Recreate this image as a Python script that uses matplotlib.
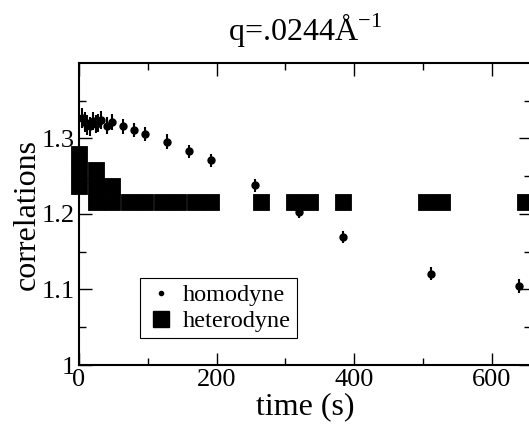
import matplotlib
matplotlib.use('Agg')
import matplotlib.pyplot as plt
from matplotlib.lines import Line2D

plt.rcParams['font.family'] = ['Liberation Serif', 'DejaVu Serif']
plt.rcParams['mathtext.fontset'] = 'custom'
plt.rcParams['mathtext.rm'] = 'Liberation Serif'

# homodyne correlation (time in s, value, error)
homo_t = [4, 8, 12, 16, 20, 24, 28, 32, 40, 48, 64, 80, 96, 128, 160, 192,
          256, 320, 384, 512, 640]
homo_y = [1.327, 1.322, 1.318, 1.316, 1.323, 1.319, 1.321, 1.324, 1.317, 1.322,
          1.316, 1.311, 1.306, 1.296, 1.283, 1.271, 1.238, 1.203, 1.170, 1.121, 1.105]
homo_err = [0.013, 0.013, 0.013, 0.013, 0.012, 0.012, 0.012, 0.012, 0.011, 0.011,
            0.010, 0.009, 0.009, 0.010, 0.009, 0.009, 0.009, 0.008, 0.008, 0.009, 0.009]

# heterodyne correlation
het_t = [0, 0, 0, 24, 24, 24, 48, 48, 72, 96, 120, 144, 168, 192,
         264, 312, 336, 384, 504, 528, 648]
het_y = [1.279, 1.258, 1.237, 1.258, 1.237, 1.216, 1.237, 1.216, 1.216, 1.216,
         1.216, 1.216, 1.216, 1.216, 1.216, 1.216, 1.216, 1.216, 1.216, 1.216, 1.216]

fig = plt.figure(figsize=(5.29, 4.28), dpi=100)
ax = fig.add_axes([79 / 529, 63 / 428, 452 / 529, 302 / 428])

ax.plot(het_t, het_y, 's', color='black', ms=12, mew=0.6, clip_on=False, zorder=3)
ax.errorbar(homo_t, homo_y, yerr=homo_err, fmt='o', color='black', ms=5,
            elinewidth=1.5, capsize=0, zorder=2)

ax.set_xlim(0, 657)
ax.set_ylim(1.0, 1.4)
ax.set_xticks([0, 200, 400, 600])
ax.set_xticks([100, 300, 500], minor=True)
ax.set_yticks([1.0, 1.1, 1.2, 1.3])
ax.set_yticklabels(['1', '1.1', '1.2', '1.3'])
ax.set_yticks([1.05, 1.15, 1.25, 1.35], minor=True)
ax.tick_params(which='both', direction='in', top=True, right=True,
               labelsize=19, width=1.0)
ax.tick_params(axis='x', pad=3)
ax.tick_params(axis='y', pad=3)
ax.tick_params(which='major', length=9)
ax.tick_params(which='minor', length=5)
for s in ax.spines.values():
    s.set_linewidth(1.5)

ax.set_xlabel('time (s)', fontsize=23, labelpad=1)
ax.set_ylabel('correlations', fontsize=23, labelpad=0)
ax.set_title(r'q=.0244Å$^{\mathregular{-1}}$', fontsize=23, pad=16)

handles = [Line2D([], [], marker='o', ls='none', color='black', ms=3),
           Line2D([], [], marker='s', ls='none', color='black', ms=11)]
leg = ax.legend(handles, ['homodyne', 'heterodyne'], loc='lower left',
                bbox_to_anchor=(0.135, 0.089), borderaxespad=0, fontsize=17.5,
                fancybox=False, edgecolor='black', framealpha=1,
                handletextpad=0.3, handlelength=1.2, borderpad=0.25,
                labelspacing=0.15)
leg.get_frame().set_linewidth(0.8)

fig.savefig('out.png', dpi=100)
